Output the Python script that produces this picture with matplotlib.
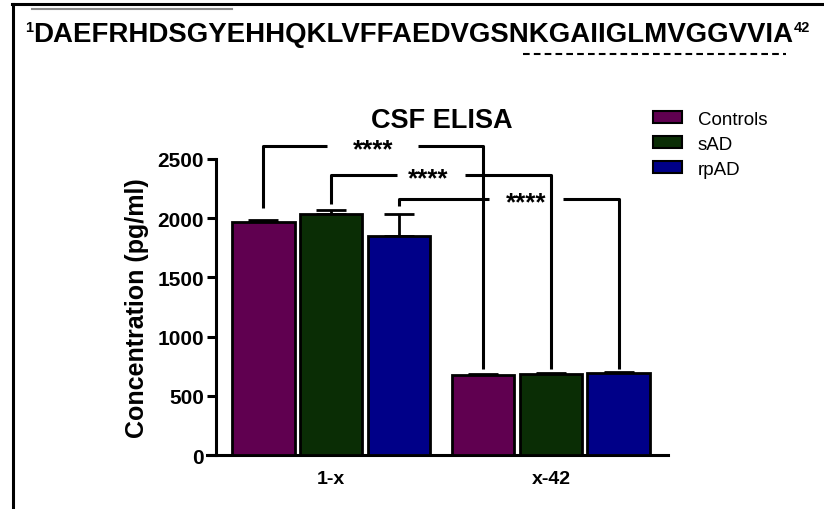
import matplotlib
matplotlib.use("Agg")
import matplotlib.pyplot as plt
import numpy as np
from matplotlib.lines import Line2D
from matplotlib.patches import Patch

plt.rcParams['font.family'] = ['Liberation Sans', 'DejaVu Sans']

# CSF ELISA measurements (pg/ml), mean and SEM per group
fragments = ['1-x', 'x-42']
groups = ['Controls', 'sAD', 'rpAD']
means = {
    'Controls': [1970, 678],
    'sAD': [2035, 684],
    'rpAD': [1852, 690],
}
sems = {
    'Controls': [12, 4],
    'sAD': [33, 5],
    'rpAD': [183, 10],
}
colors = ['#600050', '#0a2d05', '#000088']

# significance brackets: (left group, bracket height, left leg bottom, right leg bottom, label)
brackets = [
    ('Controls', 2610, 2086, 726, '****'),
    ('sAD', 2369, 2120, 726, '****'),
    ('rpAD', 2162, 2103, 726, '****'),
]
# label position along each bracket and the gap left in the line around it
bracket_text_x = [0.50, 0.44, 0.58]
bracket_gaps = [(0.29, 0.705), (0.30, 0.61), (0.41, 0.745)]

peptide = 'DAEFRHDSGYEHHQKLVFFAEDVGSNKGAIIGLMVGGVVIA'

W, H = 824, 510
fig = plt.figure(figsize=(W / 100, H / 100), dpi=100)
ax = fig.add_axes([216 / W, 1 - 456 / H, (668 - 216) / W, (456 - 160) / H])

width = 0.286
step = 0.309
x = np.arange(len(fragments))
for i, g in enumerate(groups):
    xi = x + (i - 1) * step
    ax.bar(xi, means[g], width=width, color=colors[i], edgecolor='black',
           linewidth=2, zorder=3)
    ax.errorbar(xi, means[g], yerr=[np.zeros(len(fragments)), sems[g]],
                fmt='none', ecolor='black', elinewidth=2, capsize=10.8,
                capthick=2, zorder=2)

# significance brackets from 1-x bars to the matching x-42 bars
for k, (g, top, lbot, rbot, label) in enumerate(brackets):
    i = groups.index(g)
    x0 = x[0] + (i - 1) * step
    x1 = x[1] + (i - 1) * step
    g0, g1 = bracket_gaps[k]
    kw = dict(color='black', lw=2.2, clip_on=False, solid_capstyle='butt')
    ax.plot([x0, x0, x0 + g0], [lbot, top, top], **kw)
    ax.plot([x0 + g1, x1, x1], [top, top, rbot], **kw)
    ax.annotate(label, (x0 + bracket_text_x[k], top), xytext=(0, -7.5),
                textcoords='offset points', ha='center', va='baseline',
                fontsize=18.5, fontweight='bold', annotation_clip=False)

ax.set_xlim(-0.523, 1.532)
ax.set_ylim(0, 2500)
ax.set_yticks([0, 500, 1000, 1500, 2000, 2500])
ax.set_xticks(x)
ax.set_xticklabels(fragments, fontsize=14, fontweight='bold')
ax.tick_params(axis='x', length=0, pad=11)
ax.tick_params(axis='y', length=6.5, width=2.2, labelsize=15, pad=2)
for lab in ax.get_yticklabels():
    lab.set_fontweight('bold')
for s in ['top', 'right']:
    ax.spines[s].set_visible(False)
for s in ['left', 'bottom']:
    ax.spines[s].set_linewidth(2.2)
ax.spines['bottom'].set_bounds(-0.523 - 0.04, 1.532)
ax.set_ylabel('Concentration (pg/ml)', fontsize=18, fontweight='bold', labelpad=6)
ax.set_title('CSF ELISA', fontsize=19.5, fontweight='bold', pad=23)

handles = [Patch(facecolor=c, edgecolor='black', linewidth=1.5) for c in colors]
fig.legend(handles, groups, loc='upper left', bbox_to_anchor=(653 / W, 1 - 112 / H),
           frameon=False, fontsize=13.5, handlelength=1.55, handleheight=0.6,
           handletextpad=0.85, labelspacing=0.42, borderpad=0, borderaxespad=0)

# peptide sequence header, stretched to span the panel
renderer = fig.canvas.get_renderer()
t = fig.text(33 / W, 1 - 42 / H, peptide, fontsize=19, fontweight='bold',
             ha='left', va='baseline')
bb = t.get_window_extent(renderer)
t.set_fontsize(19 * (790 - 33) / bb.width)
bb = t.get_window_extent(renderer)
fig.text(25 / W, 1 - 21 / H, '1', fontsize=10.5, fontweight='bold', ha='left', va='top')
fig.text((bb.x1 + 1) / W, 1 - 21 / H, '42', fontsize=10.5, fontweight='bold',
         ha='left', va='top')

# dashed underline below the C-terminal part
fig.add_artist(Line2D([523 / W, 786 / W], [1 - 55 / H, 1 - 55 / H], color='black',
                      lw=1.5, linestyle=(0, (3.2, 2.0))))

# panel frame and the grey rule at the top left
fig.add_artist(Line2D([12 / W, 1], [1 - 4.5 / H, 1 - 4.5 / H], color='black', lw=2.2))
fig.add_artist(Line2D([13 / W, 13 / W], [0, 1 - 4.5 / H], color='black', lw=2.2))
fig.add_artist(Line2D([32 / W, 232 / W], [1 - 10 / H, 1 - 10 / H], color='#8a8a8a', lw=1.5))

fig.savefig('out.png', dpi=100)
